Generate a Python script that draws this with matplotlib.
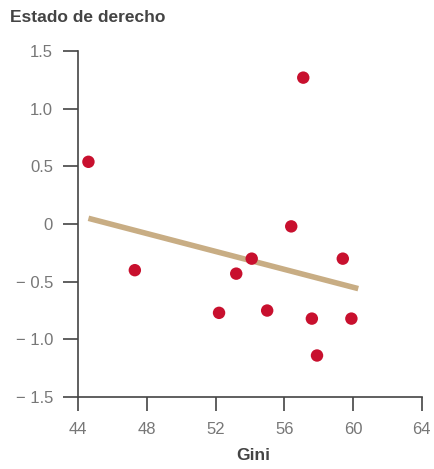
import matplotlib
matplotlib.use("Agg")
import matplotlib.pyplot as plt

plt.rcParams["font.family"] = ["Liberation Sans", "DejaVu Sans"]

# datos
gini = [44.6, 47.3, 52.2, 53.2, 54.1, 55.0, 56.4, 57.1, 57.6, 57.9, 59.4, 59.9]
estado = [0.54, -0.40, -0.77, -0.43, -0.30, -0.75, -0.02, 1.27, -0.82, -1.14, -0.30, -0.82]

# recta de ajuste
fit_x = [44.6, 60.3]
fit_y = [0.05, -0.56]

x_ticks = [44, 48, 52, 56, 60, 64]
y_ticks = [-1.5, -1.0, -0.5, 0, 0.5, 1.0, 1.5]
y_labels = ["\u2212 1.5", "\u2212 1.0", "\u2212 0.5", "0", "0.5", "1.0", "1.5"]

fig = plt.figure(figsize=(4.34, 4.69), dpi=100)
ax = fig.add_axes([0.18, 0.1535, 0.792, 0.7375])

ax.plot(fit_x, fit_y, color="#c8ad84", lw=4, solid_capstyle="butt", zorder=2)
ax.scatter(gini, estado, s=80, color="#c8102e", edgecolors="none", zorder=3)

ax.set_xlim(44, 64)
ax.set_ylim(-1.5, 1.5)
ax.set_xticks(x_ticks)
ax.set_yticks(y_ticks)
ax.set_yticklabels(y_labels)

for side in ["top", "right"]:
    ax.spines[side].set_visible(False)
for side in ["left", "bottom"]:
    ax.spines[side].set_color("#444444")
    ax.spines[side].set_linewidth(1.2)

ax.tick_params(axis="y", length=11, width=1.2, color="#444444", pad=7,
               labelsize=12, labelcolor="#777777")
ax.tick_params(axis="x", length=10, width=1.2, color="#444444", pad=8,
               labelsize=12, labelcolor="#777777")

fig.text(0.023, 0.963, "Estado de derecho", fontsize=12.5, fontweight="bold",
         color="#444444", va="center", ha="left")
fig.text(0.583, 0.028, "Gini", fontsize=12.5, fontweight="bold",
         color="#444444", va="center", ha="center")

fig.savefig("out.png", dpi=100, facecolor="white")
